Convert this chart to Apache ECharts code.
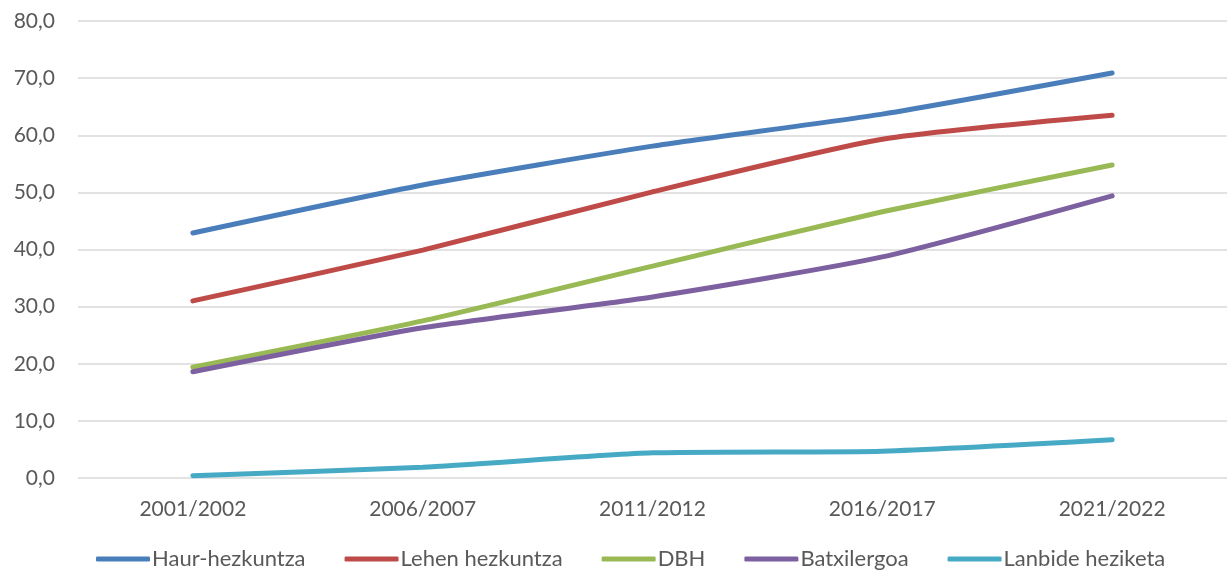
<!DOCTYPE html>
<html>
<head>
<meta charset="utf-8">
<script src="https://cdn.jsdelivr.net/npm/echarts@6/dist/echarts.min.js"></script>
<style>html,body{margin:0;padding:0;background:#fff}#c{width:1227px;height:577px}</style>
</head>
<body>
<div id="c"></div>
<script>
var categories = ['2001/2002', '2006/2007', '2011/2012', '2016/2017', '2021/2022'];
var seriesNames = ['Haur-hezkuntza', 'Lehen hezkuntza', 'DBH', 'Batxilergoa', 'Lanbide heziketa'];
var haur = [42.9, 51.3, 58.1, 63.7, 70.9];
var lehen = [31.0, 39.9, 50.1, 59.3, 63.5];
var dbh = [19.4, 27.5, 37.1, 46.6, 54.8];
var batx = [18.6, 26.3, 31.7, 38.7, 49.4];
var lanbide = [0.4, 1.9, 4.4, 4.7, 6.7];
var colors = ['#4a7ebb', '#be4b48', '#98b954', '#7d60a0', '#46aac5'];
var values = [haur, lehen, dbh, batx, lanbide];

var font = 'Lato, "Open Sans", sans-serif';
var chart = echarts.init(document.getElementById('c'));
chart.setOption({
  animation: false,
  color: colors,
  grid: { left: 78, top: 21, width: 1152, bottom: 99, containLabel: false },
  xAxis: {
    type: 'category',
    data: categories,
    boundaryGap: true,
    axisLine: { show: false },
    axisTick: { show: false },
    axisLabel: { color: '#595959', fontSize: 21, fontFamily: font, margin: 21 }
  },
  yAxis: {
    type: 'value',
    min: 0, max: 80, interval: 10,
    axisLine: { show: false },
    axisTick: { show: false },
    splitLine: { lineStyle: { color: '#d9d9d9', width: 1.5 } },
    axisLabel: {
      color: '#595959', fontSize: 21, fontFamily: font, margin: 23,
      formatter: function (v) { return v.toFixed(1).replace('.', ','); }
    }
  },
  legend: {
    bottom: 2,
    left: 91,
    padding: [5, 5, 5, 5],
    icon: 'roundRect',
    itemWidth: 54,
    itemHeight: 5,
    itemGap: 39,
    textStyle: { color: '#595959', fontSize: 22, fontFamily: font, padding: [0, 0, 0, -3] },
    data: seriesNames
  },
  series: values.map(function (d, i) {
    return {
      name: seriesNames[i],
      type: 'line',
      data: d,
      smooth: 0.2,
      symbol: 'none',
      lineStyle: { width: 5, color: colors[i], cap: 'round' },
      itemStyle: { color: colors[i] }
    };
  })
});
</script>
</body>
</html>
